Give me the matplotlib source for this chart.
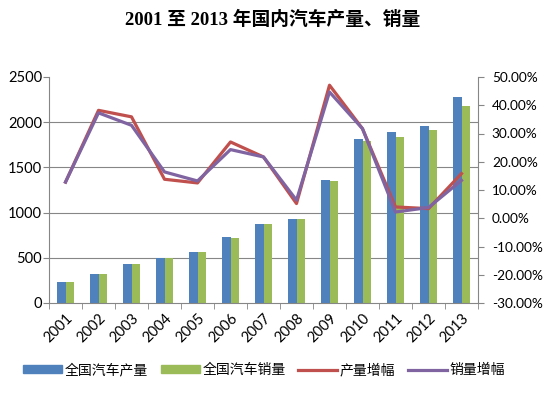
import matplotlib
matplotlib.use("Agg")
import matplotlib.pyplot as plt
import numpy as np
from matplotlib.patches import Patch
from matplotlib.lines import Line2D

years = ["2001", "2002", "2003", "2004", "2005", "2006", "2007", "2008", "2009", "2010", "2011", "2012", "2013"]
production = [232, 321, 431, 498, 564, 727, 877, 926, 1361, 1811, 1892, 1961, 2275]
sales = [232, 321, 427, 498, 564, 719, 877, 926, 1353, 1792, 1836, 1914, 2179]
prod_growth = [12.8, 38.2, 35.9, 13.8, 12.5, 27.0, 21.7, 5.2, 47.1, 31.7, 4.0, 3.4, 15.8]
sales_growth = [12.8, 37.3, 32.9, 16.4, 13.2, 24.3, 21.7, 6.4, 44.7, 31.7, 2.2, 3.8, 13.4]
left_ticks = [0, 500, 1000, 1500, 2000, 2500]
right_ticks = [-30, -20, -10, 0, 10, 20, 30, 40, 50]

BLUE = "#4F81BD"
GREEN = "#9BBB59"
RED = "#C0504D"
PURPLE = "#8064A2"
GRID = "#868686"

tickfont = ["Lato", "DejaVu Sans"]
cjk = ["Noto Sans CJK SC", "DejaVu Sans"]

fig = plt.figure(figsize=(5.45, 3.99), dpi=100)
ax = fig.add_axes([49/545, 1-303/399, (478-49)/545, (303-77)/399])
x = np.arange(len(years))
w = 0.27
ax.bar(x - w/2, production, width=w, color=BLUE, zorder=2)
ax.bar(x + w/2, sales, width=w, color=GREEN, zorder=2)
ax.set_xlim(-0.5, len(years) - 0.5)
ax.set_ylim(0, 2500)
ax.set_yticks(left_ticks)
ax.set_yticklabels([str(t) for t in left_ticks], family=tickfont, fontsize=10.5)
for t in left_ticks[1:-1]:
    ax.axhline(t, color=GRID, lw=0.8, zorder=1)
ax.set_xticks(x)
ax.set_xticklabels(years, rotation=45, ha="right", rotation_mode="anchor", family=tickfont, fontsize=10.5)
ax.set_xticks(np.arange(-0.5, len(years)), minor=True)
ax.tick_params(axis="x", which="major", length=0, pad=6)
ax.tick_params(axis="x", which="minor", length=4, color=GRID, direction="out")
ax.tick_params(axis="y", length=4, color=GRID, direction="out", pad=1)
for s in ["top", "right"]:
    ax.spines[s].set_visible(False)
ax.spines["left"].set_color(GRID)
ax.spines["bottom"].set_color(GRID)

ax2 = ax.twinx()
ax2.plot(x, prod_growth, color=RED, lw=2.3, zorder=3)
ax2.plot(x, sales_growth, color=PURPLE, lw=2.3, zorder=4)
ax2.set_ylim(-30, 50)
ax2.set_yticks(right_ticks)
ax2.set_yticklabels(["%.2f%%" % t for t in right_ticks], family=tickfont, fontsize=9.8)
ax2.tick_params(axis="y", length=4, color=GRID, direction="out", pad=6)
for s in ["top", "left", "bottom"]:
    ax2.spines[s].set_visible(False)
ax2.spines["right"].set_color(GRID)

fig.text(0.5, 1-20/399, "2001 至 2013 年国内汽车产量、销量", ha="center", va="center",
         family=["Liberation Serif", "Noto Sans CJK SC"], fontweight="bold", fontsize=13.5)

handles = [Patch(color=BLUE), Patch(color=GREEN),
           Line2D([], [], color=RED, lw=2.3), Line2D([], [], color=PURPLE, lw=2.3)]
labels = ["全国汽车产量", "全国汽车销量", "产量增幅", "销量增幅"]
fig.legend(handles, labels, loc="center", bbox_to_anchor=(0.485, 1-370/399), ncol=4,
           frameon=False, prop={"family": cjk, "size": 10}, handlelength=2.8, handleheight=0.5,
           handletextpad=0.2, columnspacing=0.9)

fig.savefig("out.png", dpi=100)
